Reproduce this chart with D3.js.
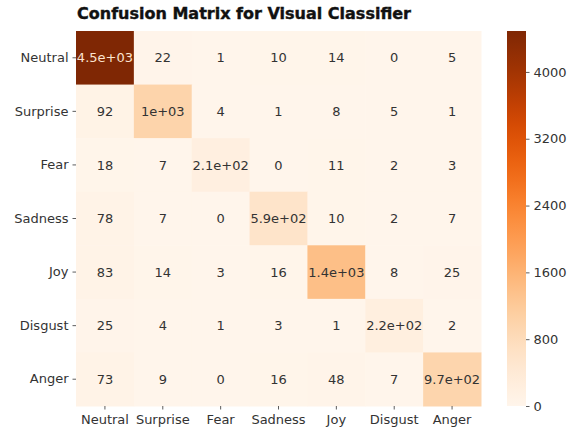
<!DOCTYPE html>
<html>
<head>
<meta charset="utf-8">
<script src="https://cdn.jsdelivr.net/npm/d3@7"></script>
<style>
  body { margin: 0; background: #fff; }
  svg { display: block; font-family: "DejaVu Sans", sans-serif; }
</style>
</head>
<body>
<div id="chart"></div>
<script>
// data
const classes = ["Neutral", "Surprise", "Fear", "Sadness", "Joy", "Disgust", "Anger"];
const matrix = [
  [4490,   22,   1,  10,   14,   0,   5],
  [  92, 1000,   4,   1,    8,   5,   1],
  [  18,    7, 210,   0,   11,   2,   3],
  [  78,    7,   0, 590,   10,   2,   7],
  [  83,   14,   3,  16, 1400,   8,  25],
  [  25,    4,   1,   3,    1, 220,   2],
  [  73,    9,   0,  16,   48,   7, 970]
];
const cbarTicks = [0, 800, 1600, 2400, 3200, 4000];
const title = "Confusion Matrix for Visual Classifier";

const W = 571, H = 435;
const m = { top: 31, left: 76, right: 90, bottom: 29 };
const cb = { x: 507, w: 19 };

const svg = d3.select("#chart").append("svg")
  .attr("width", W)
  .attr("height", H);

const cells = matrix.flatMap((row, i) =>
  row.map((v, j) => ({ actual: classes[i], pred: classes[j], v })));

const vmax = d3.max(cells, d => d.v);

const x = d3.scaleBand().domain(classes).range([m.left, 481]);
const y = d3.scaleBand().domain(classes).range([m.top, 406]);
const color = d3.scaleSequential(d3.interpolateOranges).domain([0, vmax]);

// matplotlib-ish "%.2g"
function fmt(v) {
  if (v === 0) return "0";
  const e = Math.floor(Math.log10(Math.abs(v)));
  if (e < 2) return String(+v.toPrecision(2));
  const mant = +(v / Math.pow(10, e)).toPrecision(2);
  const es = (e < 10 ? "0" : "") + e;
  return `${mant}e+${es}`;
}

// cells
svg.append("g")
  .selectAll("rect")
  .data(cells)
  .join("rect")
    .attr("x", d => x(d.pred))
    .attr("y", d => y(d.actual))
    .attr("width", x.bandwidth() + 0.5)
    .attr("height", y.bandwidth() + 0.5)
    .attr("fill", d => color(d.v));

// annotations
svg.append("g")
  .selectAll("text")
  .data(cells)
  .join("text")
    .attr("x", d => x(d.pred) + x.bandwidth() / 2)
    .attr("y", d => y(d.actual) + y.bandwidth() / 2)
    .attr("text-anchor", "middle")
    .attr("dy", "0.36em")
    .attr("font-size", 13)
    .attr("fill", d => {
      const c = d3.lab(color(d.v));
      return c.l < 55 ? "#fbe3cf" : "#333";
    })
    .text(d => fmt(d.v));

// axes
const axY = svg.append("g")
  .attr("transform", `translate(${m.left},0)`)
  .call(d3.axisLeft(y).tickSize(3.5).tickPadding(4));
const axX = svg.append("g")
  .attr("transform", `translate(0,406)`)
  .call(d3.axisBottom(x).tickSize(3.5).tickPadding(5));

[axX, axY].forEach(ax => {
  ax.select(".domain").remove();
  ax.selectAll(".tick line").attr("stroke", "#333").attr("stroke-width", 0.8);
  ax.selectAll(".tick text")
    .attr("font-size", 13)
    .attr("fill", "#333")
    .attr("font-family", "DejaVu Sans, sans-serif");
});

// colorbar
const cy = d3.scaleLinear().domain([0, vmax]).range([406, m.top]);
const grad = svg.append("defs").append("linearGradient")
  .attr("id", "cbar")
  .attr("x1", 0).attr("y1", 1).attr("x2", 0).attr("y2", 0);
d3.range(0, 1.0001, 0.05).forEach(t => {
  grad.append("stop")
    .attr("offset", t)
    .attr("stop-color", color(t * vmax));
});
svg.append("rect")
  .attr("x", cb.x)
  .attr("y", m.top)
  .attr("width", cb.w)
  .attr("height", 406 - m.top)
  .attr("fill", "url(#cbar)");

const axC = svg.append("g")
  .attr("transform", `translate(${cb.x + cb.w},0)`)
  .call(d3.axisRight(cy).tickValues(cbarTicks).tickFormat(d3.format("d"))
    .tickSize(3.5).tickPadding(4));
axC.select(".domain").remove();
axC.selectAll(".tick line").attr("stroke", "#333").attr("stroke-width", 0.8);
axC.selectAll(".tick text")
  .attr("font-size", 13)
  .attr("fill", "#333")
  .attr("font-family", "DejaVu Sans, sans-serif");

// title
svg.append("text")
  .attr("x", 77)
  .attr("y", 19)
  .attr("font-size", 16)
  .attr("font-weight", "bold")
  .attr("fill", "#111")
  .attr("stroke", "#111")
  .attr("stroke-width", 0.4)
  .text(title);
</script>
</body>
</html>
